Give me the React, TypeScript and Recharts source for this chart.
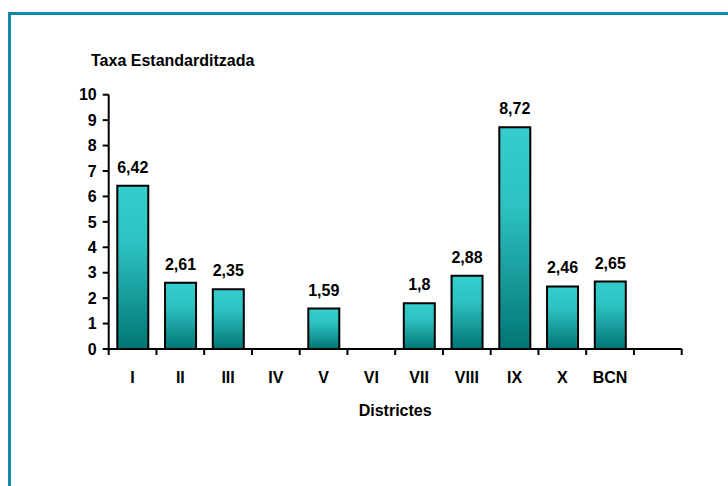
import React from 'react';
import { BarChart, Bar, XAxis, YAxis, LabelList } from 'recharts';

const districts = ['I', 'II', 'III', 'IV', 'V', 'VI', 'VII', 'VIII', 'IX', 'X', 'BCN', ''];
const rates: (number | null)[] = [6.42, 2.61, 2.35, null, 1.59, null, 1.8, 2.88, 8.72, 2.46, 2.65, null];
const yTicks = [0, 1, 2, 3, 4, 5, 6, 7, 8, 9, 10];
const yTitle = 'Taxa Estandarditzada';
const xTitle = 'Districtes';

const data = districts.map((d, i) => ({ district: d, rate: rates[i] }));

const FONT = '"Liberation Sans", Arial, Helvetica, sans-serif';
const W = 728;
const H = 486;
const PLOT_LEFT = 108.7;
const PLOT_RIGHT = 681.7;
const PLOT_TOP = 94.7;
const PLOT_BOTTOM = 349;
const BAND = (PLOT_RIGHT - PLOT_LEFT) / districts.length;
const TICK_LEN = 6;
const TICK_GAP = 17;
const Y_AXIS_W = 60;
const X_AXIS_H = 40;

function XTick(props: any) {
  const { x, y, payload, index } = props;
  const axisY = y - TICK_LEN - TICK_GAP;
  const left = x - BAND / 2;
  return (
    <g>
      <line x1={left} x2={left} y1={axisY} y2={axisY + TICK_LEN} stroke="#000" strokeWidth={2} />
      {index === districts.length - 1 && (
        <line x1={x + BAND / 2} x2={x + BAND / 2} y1={axisY} y2={axisY + TICK_LEN} stroke="#000" strokeWidth={2} />
      )}
      <text x={x} y={y} dy="0.71em" textAnchor="middle" fontFamily={FONT} fontWeight="bold" fontSize={16} fill="#000">
        {payload.value}
      </text>
    </g>
  );
}

function ValueLabel(props: any) {
  const { x, y, width, value } = props;
  if (value === null || value === undefined) return null;
  return (
    <text x={x + width / 2} y={y - 13} textAnchor="middle" fontFamily={FONT} fontWeight="bold" fontSize={16} fill="#000">
      {String(value).replace('.', ',')}
    </text>
  );
}

export default function App() {
  return (
    <div style={{ position: 'absolute', left: 0, top: 0, width: W, height: H, overflow: 'hidden', background: '#fff' }}>
      <div
        style={{
          position: 'absolute',
          left: 8,
          top: 12,
          width: 760,
          height: 520,
          border: '3px solid #1389AA',
          boxSizing: 'border-box',
        }}
      />
      <div
        style={{
          position: 'absolute',
          left: 91,
          top: 52,
          fontFamily: FONT,
          fontWeight: 'bold',
          fontSize: 16,
          lineHeight: '18px',
          color: '#000',
          whiteSpace: 'nowrap',
        }}
      >
        {yTitle}
      </div>
      <div
        style={{
          position: 'absolute',
          left: PLOT_LEFT,
          width: PLOT_RIGHT - PLOT_LEFT,
          top: 402,
          textAlign: 'center',
          fontFamily: FONT,
          fontWeight: 'bold',
          fontSize: 16,
          lineHeight: '18px',
          color: '#000',
        }}
      >
        {xTitle}
      </div>
      <div style={{ position: 'absolute', left: 0, top: 0 }}>
        <BarChart
          width={W}
          height={H}
          data={data}
          margin={{
            top: PLOT_TOP,
            left: PLOT_LEFT - Y_AXIS_W,
            right: W - PLOT_RIGHT,
            bottom: H - PLOT_BOTTOM - X_AXIS_H,
          }}
          barCategoryGap="18%"
        >
          <defs>
            <linearGradient id="barGrad" x1="0" y1="0" x2="0" y2="1">
              <stop offset="0%" stopColor="#35CDCD" />
              <stop offset="35%" stopColor="#2EC2C2" />
              <stop offset="100%" stopColor="#027575" />
            </linearGradient>
          </defs>
          <XAxis
            xAxisId="main"
            dataKey="district"
            type="category"
            interval={0}
            height={X_AXIS_H}
            tickLine={false}
            tickSize={TICK_LEN}
            tickMargin={TICK_GAP}
            axisLine={{ stroke: '#000', strokeWidth: 2 }}
            tick={<XTick />}
          />
          <XAxis
            xAxisId="top"
            dataKey="district"
            orientation="top"
            height={0}
            tick={false}
            tickLine={false}
            axisLine={{ stroke: '#000', strokeWidth: 2 }}
          />
          <YAxis
            yAxisId="main"
            domain={[0, 10]}
            ticks={yTicks}
            interval={0}
            width={Y_AXIS_W}
            tickSize={TICK_LEN}
            tickMargin={6}
            axisLine={{ stroke: '#000', strokeWidth: 2 }}
            tickLine={{ stroke: '#000', strokeWidth: 2 }}
            tick={{ fontFamily: FONT, fontWeight: 'bold', fontSize: 16, fill: '#000' }}
          />
          <YAxis
            yAxisId="right"
            orientation="right"
            domain={[0, 10]}
            width={0}
            tick={false}
            tickLine={false}
            axisLine={{ stroke: '#000', strokeWidth: 2 }}
          />
          <Bar
            xAxisId="main"
            yAxisId="main"
            dataKey="rate"
            fill="url(#barGrad)"
            stroke="#000"
            strokeWidth={2}
            isAnimationActive={false}
          >
            <LabelList dataKey="rate" content={<ValueLabel />} />
          </Bar>
        </BarChart>
      </div>
    </div>
  );
}
